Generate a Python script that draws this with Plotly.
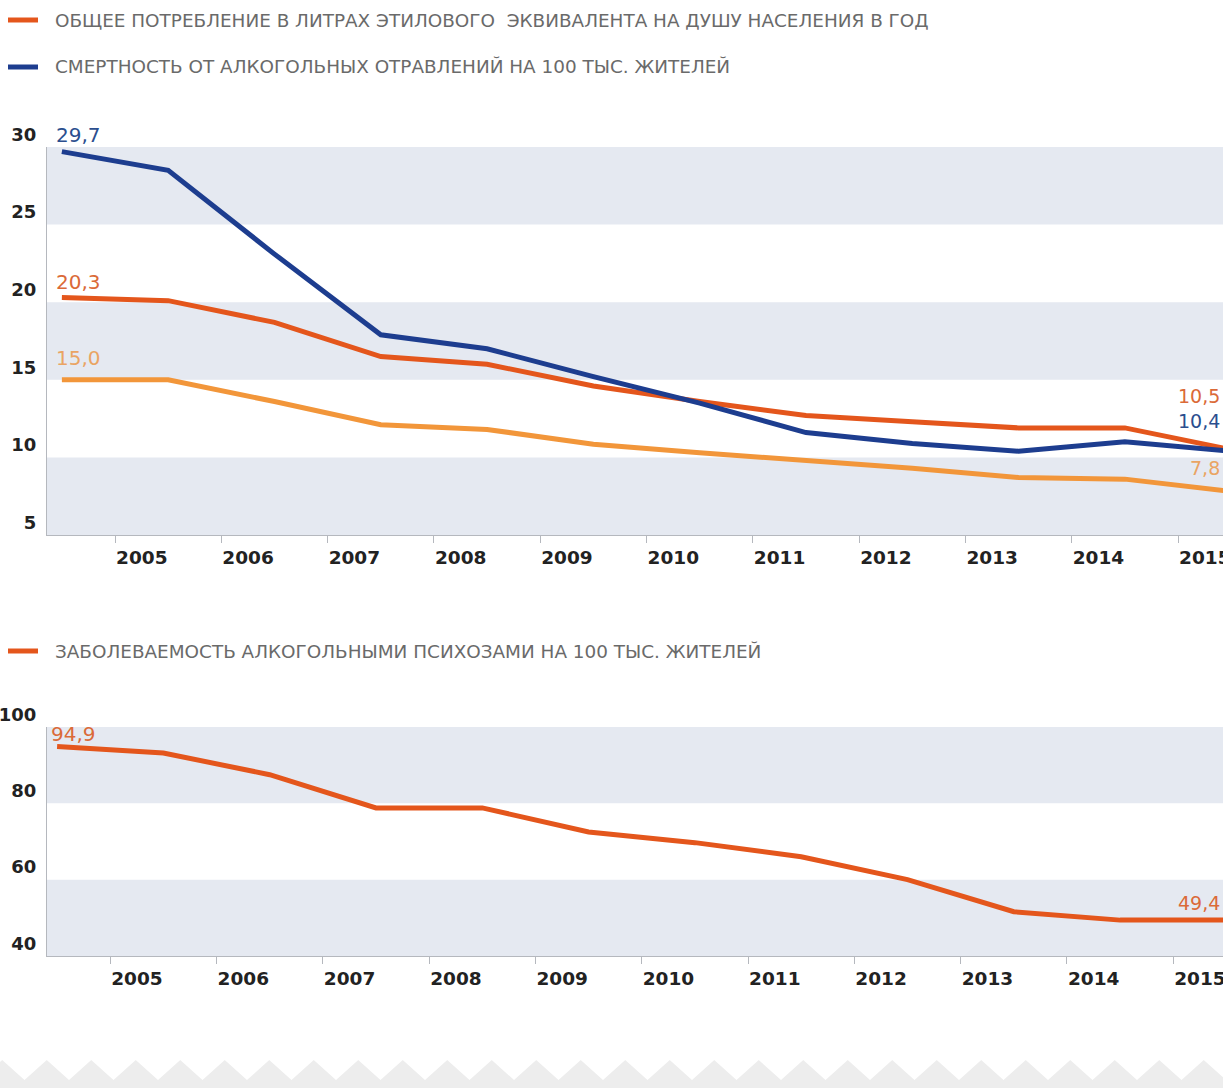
import plotly.graph_objects as go

# ---------------- data ----------------
years = list(range(2004, 2016))
consumption = [20.3, 20.1, 18.7, 16.5, 16.0, 14.6, 13.6, 12.7, 12.3, 11.9, 11.9, 10.5]
mortality = [29.7, 28.5, 23.1, 17.9, 17.0, 15.2, 13.5, 11.6, 10.9, 10.4, 11.0, 10.4]
registered = [15.0, 15.0, 13.6, 12.1, 11.8, 10.85, 10.3, 9.8, 9.3, 8.7, 8.6, 7.8]
psychoses = [94.9, 93.2, 87.5, 78.8, 78.8, 72.5, 69.7, 66.0, 60.0, 51.6, 49.4, 49.4]

top_ticks = [5, 10, 15, 20, 25, 30]
bottom_ticks = [40, 60, 80, 100]
x_ticks = list(range(2005, 2016))
x_tick_labels = [str(y) for y in x_ticks]

legend_consumption = "ОБЩЕЕ ПОТРЕБЛЕНИЕ В ЛИТРАХ ЭТИЛОВОГО  ЭКВИВАЛЕНТА НА ДУШУ НАСЕЛЕНИЯ В ГОД"
legend_mortality = "СМЕРТНОСТЬ ОТ АЛКОГОЛЬНЫХ ОТРАВЛЕНИЙ НА 100 ТЫС. ЖИТЕЛЕЙ"
legend_psychoses = "ЗАБОЛЕВАЕМОСТЬ АЛКОГОЛЬНЫМИ ПСИХОЗАМИ НА 100 ТЫС. ЖИТЕЛЕЙ"

# ---------------- styles ----------------
W, H = 1223, 1088
ML = 47
C_ORANGE = "#E4561C"
C_BLUE = "#1D3D8F"
C_LIGHT = "#F2963A"
C_BAND = "#E5E9F1"
C_AXIS = "#B5B8BE"
FONT = "DejaVu Sans"


def px(xp):
    return (xp - ML) / (W - ML)


def py(yp):
    return 1 - yp / H


def fmt(v):
    return f"{v:.1f}".replace(".", ",")


xs = [y + 0.5 for y in years]
px_per_year = 106.3
x0 = 2004.36
span = (W - ML) / px_per_year
x_range = [x0, x0 + span]
x2_range = [x0 + 0.045, x0 + 0.045 + span]

fig = go.Figure()
for series, color, ax in [
    (registered, C_LIGHT, "y"),
    (consumption, C_ORANGE, "y"),
    (mortality, C_BLUE, "y"),
    (psychoses, C_ORANGE, "y2"),
]:
    fig.add_trace(go.Scatter(
        x=xs, y=series, mode="lines",
        line=dict(color=color, width=5),
        xaxis="x" if ax == "y" else "x2", yaxis=ax,
        showlegend=False, hoverinfo="skip",
    ))

shapes = []
# alternating bands, starting from the top interval
for ticks, yref in [(top_ticks, "y"), (bottom_ticks, "y2")]:
    desc = sorted(ticks, reverse=True)
    for i in range(0, len(desc) - 1, 2):
        shapes.append(dict(type="rect", xref="x domain", yref=yref,
                           x0=0, x1=1, y0=desc[i + 1], y1=desc[i],
                           fillcolor=C_BAND, line=dict(width=0), layer="below"))

# legend swatches
for ypix, color in [(20, C_ORANGE), (67, C_BLUE), (651, C_ORANGE)]:
    shapes.append(dict(type="line", xref="paper", yref="paper",
                       x0=px(8), x1=px(38), y0=py(ypix), y1=py(ypix),
                       line=dict(color=color, width=5)))

# decorative zigzag strip at the bottom
pts = [f"M {px(-20)},{py(1088)}", f"L {px(-20)},{py(1080)}"]
xp = -20.0
k = 0
while xp < W + 40:
    xp += 22.25
    k += 1
    yp = 1060 if k % 2 == 1 else 1080
    pts.append(f"L {px(xp)},{py(yp)}")
pts.append(f"L {px(xp)},{py(1088)} Z")
shapes.append(dict(type="path", xref="paper", yref="paper", path=" ".join(pts),
                   fillcolor="#EDEDED", line=dict(width=0), layer="below"))

annotations = []
for text, ypix in [(legend_consumption, 20), (legend_mortality, 67), (legend_psychoses, 651)]:
    annotations.append(dict(text=text, xref="paper", yref="paper", x=px(53), y=py(ypix),
                            xanchor="left", yanchor="middle", showarrow=False,
                            font=dict(family=FONT, size=18.4, color="#6A6A6A")))

# value labels at the first point (left) and the last point (right edge)
first_labels = [
    (mortality, "#2B4E8E", "x", "y", 17),
    (consumption, "#DB6A38", "x", "y", 16),
    (registered, "#EAA463", "x", "y", 22),
    (psychoses, "#DB6A38", "x2", "y2", 12),
]
for series, color, xref, yref, ysh in first_labels:
    annotations.append(dict(text=fmt(series[0]), x=xs[0], y=series[0],
                            xref=xref, yref=yref, xanchor="left", yanchor="middle",
                            xshift=-8, yshift=ysh, showarrow=False,
                            font=dict(family=FONT, size=20, color=color)))
last_labels = [
    (consumption, "#DB6A38", "x domain", "y", 54),
    (mortality, "#2B4E8E", "x domain", "y", 30),
    (registered, "#EAA463", "x domain", "y", 24),
    (psychoses, "#DB6A38", "x2 domain", "y2", 17),
]
for series, color, xref, yref, ysh in last_labels:
    annotations.append(dict(text=fmt(series[-1]), x=1, y=series[-1],
                            xref=xref, yref=yref, xanchor="right", yanchor="middle",
                            xshift=-1, yshift=ysh, showarrow=False,
                            font=dict(family=FONT, size=19, color=color)))

xaxis_common = dict(
    tickvals=x_ticks, ticktext=x_tick_labels,
    ticks="outside", ticklen=7, tickcolor=C_AXIS, tickwidth=1,
    showline=True, linecolor=C_AXIS, linewidth=1,
    showgrid=False, zeroline=False, automargin=False,
    ticklabelposition="outside right", ticklabeloverflow="allow",
    ticklabelstandoff=6,
    tickfont=dict(family=FONT, size=18.5, color="#222222", weight="bold"),
)
yaxis_common = dict(
    showline=True, linecolor=C_AXIS, linewidth=1,
    ticks="", showgrid=False, zeroline=False, automargin=False,
    ticklabelposition="outside top", ticklabelstandoff=6,
    tickfont=dict(family=FONT, size=18, color="#222222", weight="bold"),
)

fig.update_layout(
    width=W, height=H,
    margin=dict(l=ML, r=0, t=0, b=0, autoexpand=False),
    paper_bgcolor="white", plot_bgcolor="white",
    showlegend=False,
    xaxis=dict(domain=[0, 1], anchor="y", range=x_range, **xaxis_common),
    yaxis=dict(domain=[py(535), py(147)], range=[5, 30], tickvals=top_ticks, anchor="x", **yaxis_common),
    xaxis2=dict(domain=[0, 1], anchor="y2", range=x2_range, **xaxis_common),
    yaxis2=dict(domain=[py(956), py(727)], range=[40, 100], tickvals=bottom_ticks, anchor="x2", **yaxis_common),
    shapes=shapes,
    annotations=annotations,
)

fig.write_html(
    "out.html",
    config={"displayModeBar": False},
    post_script="document.body.style.margin='0';document.body.style.overflow='hidden';",
)
